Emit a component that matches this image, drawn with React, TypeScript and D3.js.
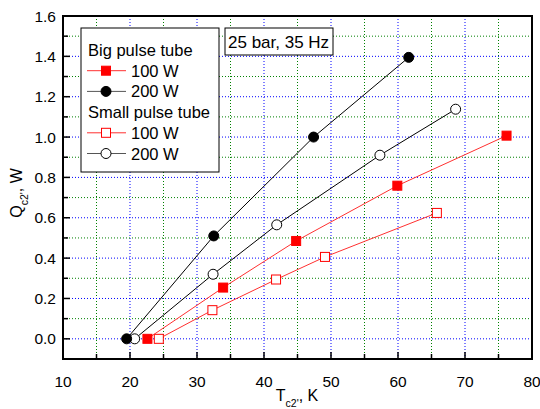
import React from 'react';
import * as d3 from 'd3';

// Temperature (K) and cooling power (W)
const bigTube100T = [22.6, 33.9, 44.8, 59.9, 76.2];
const bigTube100Q = [0.0, 0.254, 0.485, 0.759, 1.007];
const bigTube200T = [19.5, 32.5, 47.4, 61.6];
const bigTube200Q = [0.0, 0.51, 1.0, 1.395];
const smallTube100T = [24.3, 32.3, 41.8, 49.1, 65.8];
const smallTube100Q = [0.0, 0.142, 0.294, 0.406, 0.624];
const smallTube200T = [20.7, 32.4, 41.9, 57.3, 68.6];
const smallTube200Q = [0.0, 0.32, 0.565, 0.91, 1.138];

const xTicks = [10, 20, 30, 40, 50, 60, 70, 80];
const yTicks = [0.0, 0.2, 0.4, 0.6, 0.8, 1.0, 1.2, 1.4, 1.6];

const W = 540;
const H = 409;
const FONT = 'Liberation Sans, Arial, sans-serif';

const App = () => {
  const x = d3.scaleLinear().domain([10, 80]).range([63, 532]);
  const y = d3.scaleLinear().domain([-0.1, 1.6]).range([359, 16]);

  const majorX = d3.range(20, 80, 10);
  const minorX = d3.range(15, 80, 10);
  const majorY = d3.range(0, 1.5, 0.2);
  const minorY = d3.range(0.1, 1.6, 0.2);

  const line = d3.line<[number, number]>().x(d => x(d[0])).y(d => y(d[1]));
  const pts = (t: number[], q: number[]) => t.map((v, i) => [v, q[i]] as [number, number]);

  const series = [
    { data: pts(smallTube100T, smallTube100Q), color: '#ff3030', shape: 'square', fill: 'white' },
    { data: pts(bigTube100T, bigTube100Q), color: '#ff3030', shape: 'square', fill: '#ff0000' },
    { data: pts(smallTube200T, smallTube200Q), color: '#000', shape: 'circle', fill: 'white' },
    { data: pts(bigTube200T, bigTube200Q), color: '#000', shape: 'circle', fill: '#000' },
  ];

  const marker = (shape: string, cx: number, cy: number, fill: string, key?: any) =>
    shape === 'square' ? (
      <rect key={key} x={cx - 4.5} y={cy - 4.5} width={9} height={9} fill={fill}
        stroke="#ff0000" strokeWidth={1} />
    ) : (
      <circle key={key} cx={cx} cy={cy} r={5} fill={fill} stroke="#000" strokeWidth={1} />
    );

  const legendItems = [
    { label: 'Big pulse tube', header: true },
    { label: '100 W', color: '#ff3030', shape: 'square', fill: '#ff0000' },
    { label: '200 W', color: '#555', shape: 'circle', fill: '#000' },
    { label: 'Small pulse tube', header: true },
    { label: '100 W', color: '#ff3030', shape: 'square', fill: 'white' },
    { label: '200 W', color: '#555', shape: 'circle', fill: 'white' },
  ];

  return (
    <svg width={W} height={H} style={{ position: 'absolute', left: 0, top: 0, background: 'white' }}
      fontFamily={FONT}>
      {/* grid */}
      {minorX.map(v => (
        <line key={'gx' + v} x1={x(v)} x2={x(v)} y1={16} y2={359} stroke="#008000"
          strokeDasharray="1,2" strokeWidth={1} />
      ))}
      {majorX.map(v => (
        <line key={'GX' + v} x1={x(v)} x2={x(v)} y1={16} y2={359} stroke="#0000ff"
          strokeDasharray="1,2" strokeWidth={1} />
      ))}
      {minorY.map(v => (
        <line key={'gy' + v} x1={63} x2={532} y1={y(v)} y2={y(v)} stroke="#008000"
          strokeDasharray="1,2" strokeWidth={1} />
      ))}
      {majorY.map(v => (
        <line key={'GY' + v} x1={63} x2={532} y1={y(v)} y2={y(v)} stroke="#0000ff"
          strokeDasharray="1,2" strokeWidth={1} />
      ))}

      {/* ticks */}
      {d3.range(15, 80, 5).map(v => (
        <line key={'tx' + v} x1={x(v)} x2={x(v)} y1={359} y2={v % 10 === 0 ? 352 : 354}
          stroke="#000" strokeWidth={1.5} />
      ))}
      {d3.range(0, 16).map(i => {
        const v = i * 0.1;
        return (
          <line key={'ty' + i} x1={63} x2={i % 2 === 0 ? 70 : 68} y1={y(v)} y2={y(v)}
            stroke="#000" strokeWidth={1.5} />
        );
      })}

      {/* series */}
      {series.map((s, i) => (
        <g key={'s' + i}>
          <path d={line(s.data) || ''} fill="none" stroke={s.color} strokeWidth={1} />
          {s.data.map((d, j) => marker(s.shape, x(d[0]), y(d[1]), s.fill, j))}
        </g>
      ))}

      {/* frame */}
      <rect x={63} y={16} width={469} height={343} fill="none" stroke="#000" strokeWidth={2} />

      {/* tick labels */}
      {xTicks.map(v => (
        <text key={'lx' + v} x={x(v)} y={387} fontSize={15.5} textAnchor="middle">{v}</text>
      ))}
      {yTicks.map(v => (
        <text key={'ly' + v} x={56} y={y(v) + 5.5} fontSize={15.5} textAnchor="end">{v.toFixed(1)}</text>
      ))}

      {/* axis titles */}
      <text x={297} y={401} fontSize={16} textAnchor="middle">
        T<tspan fontSize={10.5} dy={6}>c2'</tspan><tspan dy={-6}>, K</tspan>
      </text>
      <text transform="translate(22,193) rotate(-90)" fontSize={16} textAnchor="middle">
        Q<tspan fontSize={10.5} dy={6}>c2'</tspan><tspan dy={-6}>, W</tspan>
      </text>

      {/* legend */}
      <rect x={81} y={28} width={138} height={144} fill="white" stroke="#000" strokeWidth={1} />
      {legendItems.map((it, i) => {
        const cy = 50 + i * 20.7;
        if (it.header) {
          return <text key={'lg' + i} x={88} y={cy + 6} fontSize={16.5}>{it.label}</text>;
        }
        return (
          <g key={'lg' + i}>
            <line x1={87} x2={126} y1={cy} y2={cy} stroke={it.color} strokeWidth={1} />
            {marker(it.shape!, 106, cy, it.fill!)}
            <text x={131} y={cy + 6} fontSize={16.5}>{it.label}</text>
          </g>
        );
      })}

      {/* annotation */}
      <rect x={225} y={28} width={108} height={27} fill="white" stroke="#000" strokeWidth={1} />
      <text x={228} y={48} fontSize={17}>25 bar, 35 Hz</text>
    </svg>
  );
};

export default App;
